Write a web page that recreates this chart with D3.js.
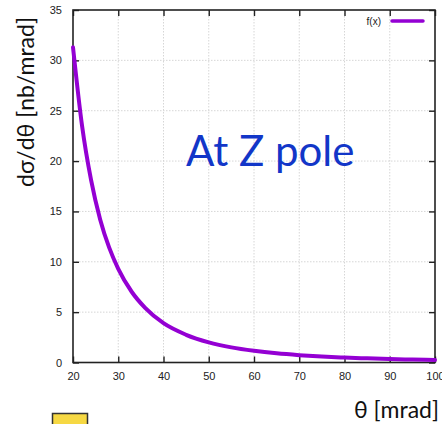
<!DOCTYPE html>
<html>
<head>
<meta charset="utf-8">
<script src="https://cdn.jsdelivr.net/npm/d3@7"></script>
<style>
  html, body { margin: 0; padding: 0; background: #fff; }
  svg { display: block; }
</style>
</head>
<body>
<svg id="chart" width="442" height="424"></svg>
<script>
// Bhabha differential cross-section vs. scattering angle
const theta = [20, 22, 24, 26, 28, 30, 33, 36, 40, 45, 50, 55, 60, 65, 70, 75, 80, 85, 90, 95, 100];
const dsigma = [31.3, 23.5, 18.1, 14.2, 11.4, 9.3, 7.0, 5.4, 3.9, 2.75, 2.0, 1.5, 1.16, 0.91, 0.73, 0.59, 0.49, 0.41, 0.34, 0.29, 0.25];
const xTicks = [20, 30, 40, 50, 60, 70, 80, 90, 100];
const yTicks = [0, 5, 10, 15, 20, 25, 30, 35];
const seriesName = "f(x)";

const svg = d3.select("#chart");
const plot = { left: 73, right: 435, top: 10, bottom: 362.5 };

const x = d3.scaleLinear().domain([20, 100]).range([plot.left, plot.right]);
const y = d3.scaleLinear().domain([0, 35]).range([plot.bottom, plot.top]);

// grid
const grid = svg.append("g").attr("stroke", "#d6d6d6").attr("stroke-width", 1).attr("stroke-dasharray", "1.5,1.5");
grid.selectAll("line.gx").data(xTicks.slice(1, -1)).join("line")
  .attr("x1", d => x(d)).attr("x2", d => x(d)).attr("y1", plot.top).attr("y2", plot.bottom);
grid.selectAll("line.gy").data(yTicks.slice(1, -1)).join("line")
  .attr("x1", plot.left).attr("x2", plot.right).attr("y1", d => y(d)).attr("y2", d => y(d));

// axes (ticks pointing inward, mirrored on top and right)
const tickFont = "'Liberation Sans', Arial, sans-serif";
const styleAxis = g => {
  g.select(".domain").remove();
  g.selectAll(".tick line").attr("stroke", "#222").attr("stroke-width", 1.4);
  g.selectAll(".tick text").attr("fill", "#222").attr("font-size", 11).attr("font-family", tickFont);
};
svg.append("g").attr("transform", `translate(0,${plot.bottom})`)
  .call(d3.axisBottom(x).tickValues(xTicks).tickSizeInner(-6).tickSizeOuter(0).tickPadding(10))
  .call(styleAxis);
svg.append("g").attr("transform", `translate(0,${plot.top})`)
  .call(d3.axisTop(x).tickValues(xTicks).tickSizeInner(-6).tickSizeOuter(0).tickFormat(""))
  .call(styleAxis);
svg.append("g").attr("transform", `translate(${plot.left},0)`)
  .call(d3.axisLeft(y).tickValues(yTicks).tickSizeInner(-6).tickSizeOuter(0).tickPadding(11))
  .call(styleAxis);
svg.append("g").attr("transform", `translate(${plot.right},0)`)
  .call(d3.axisRight(y).tickValues(yTicks).tickSizeInner(-6).tickSizeOuter(0).tickFormat(""))
  .call(styleAxis);

// frame
svg.append("rect")
  .attr("x", plot.left).attr("y", plot.top)
  .attr("width", plot.right - plot.left).attr("height", plot.bottom - plot.top)
  .attr("fill", "none").attr("stroke", "#222").attr("stroke-width", 1.6);

// curve
const line = d3.line().x((d, i) => x(theta[i])).y(d => y(d)).curve(d3.curveMonotoneX);
svg.append("path").datum(dsigma)
  .attr("d", line)
  .attr("fill", "none").attr("stroke", "#9400d3").attr("stroke-width", 4).attr("stroke-linecap", "round");

// legend
svg.append("text").attr("x", 381).attr("y", 25).attr("text-anchor", "end")
  .attr("font-family", tickFont).attr("font-size", 10).attr("fill", "#222").text(seriesName);
svg.append("line").attr("x1", 392).attr("x2", 423).attr("y1", 21).attr("y2", 21)
  .attr("stroke", "#9400d3").attr("stroke-width", 3.5).attr("stroke-linecap", "round");

// annotation
const labelFont = "Lato, 'Open Sans', sans-serif";
svg.append("text").attr("x", 186).attr("y", 166)
  .attr("font-family", labelFont).attr("font-size", 42).attr("fill", "#1236c8").text("At Z pole");

// axis titles
svg.append("text").attr("x", 439).attr("y", 418).attr("text-anchor", "end")
  .attr("font-family", labelFont).attr("font-size", 23).attr("fill", "#111").text("θ [mrad]");
svg.append("text").attr("transform", "translate(34,102) rotate(-90)").attr("text-anchor", "middle")
  .attr("font-family", labelFont).attr("font-size", 23).attr("fill", "#111").text("dσ/dθ [nb/mrad]");

// small marker box at the bottom edge
svg.append("rect").attr("x", 52.5).attr("y", 413.5).attr("width", 35).attr("height", 16)
  .attr("fill", "#f6d843").attr("stroke", "#333").attr("stroke-width", 1.5);
</script>
</body>
</html>
